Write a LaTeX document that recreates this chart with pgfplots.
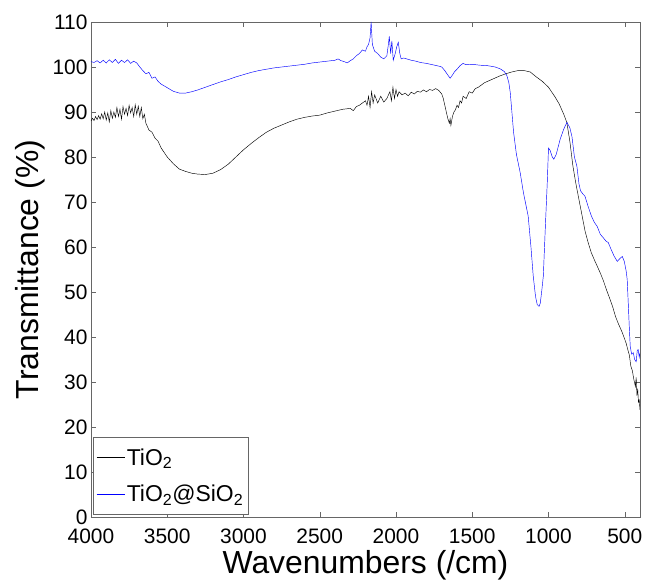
\documentclass[border=0pt]{standalone}
\usepackage{fontspec}
\setmainfont{Liberation Sans}
\usepackage{pgfplots}
\pgfplotsset{compat=1.18}

\begin{document}
\begin{tikzpicture}
  \begin{axis}[
      name=ax,
      scale only axis,
      width=549bp, height=495bp,
      x dir=reverse,
      xmin=400, xmax=4000,
      ymin=0, ymax=110,
      xtick={500,1000,...,4000},
      ytick={0,10,...,110},
      tick pos=both,
      tick align=inside,
      major tick length=5bp,
      every tick/.style={gray!80!black},
      axis line style={gray!80!black, line width=0.8pt},
      /pgf/number format/assume math mode=true,
      /pgf/number format/set thousands separator={},
      tick label style={font=\fontsize{21}{24}\selectfont},
      xticklabel style={yshift=-8bp},
      xlabel={Wavenumbers (/cm)},
      ylabel={Transmittance (\%)},
      label style={font=\fontsize{32}{36}\selectfont},
      xlabel style={at={([yshift=-56bp]axis description cs:0.5,0)}, anchor=base},
      ylabel style={at={([xshift=-52bp]axis description cs:0,0.5)}, anchor=base},
      legend cell align=left,
      legend style={
          at={(axis description cs:0.004,0.006)}, anchor=south west,
          draw=gray!80!black, font=\fontsize{23}{26}\selectfont,
          inner xsep=3bp, inner ysep=9bp, row sep=14bp,
      },
      legend image code/.code={\draw[#1] (0bp,0bp) -- (28bp,0bp);},
  ]
  \addplot[black, line width=0.45pt] coordinates {
      (4000,88.0) (3990,88.6) (3980,88.1) (3970,89.0) (3960,88.3) (3950,89.2)
      (3940,88.4) (3930,89.6) (3920,88.5) (3910,90.0) (3900,88.2) (3890,89.8)
      (3880,87.8) (3870,90.3) (3860,88.6) (3850,90.0) (3840,88.8) (3830,91.0)
      (3820,89.0) (3810,90.6) (3800,88.4) (3790,91.2) (3780,89.5) (3770,90.8)
      (3760,89.2) (3750,91.5) (3740,89.8) (3730,91.0) (3720,89.0) (3710,91.6)
      (3700,89.5) (3690,91.3) (3680,89.0) (3670,91.0) (3660,88.5) (3650,89.5)
      (3640,87.5) (3620,86.0) (3600,85.5) (3580,84.2) (3560,83.5) (3540,82.0)
      (3520,81.0) (3500,80.0) (3460,78.5) (3420,77.3) (3380,76.8) (3340,76.4)
      (3300,76.2) (3250,76.1) (3200,76.4) (3150,77.2) (3100,78.4) (3050,80.0)
      (3000,81.6) (2950,83.0) (2900,84.3) (2850,85.5) (2800,86.4) (2750,87.1)
      (2700,87.8) (2650,88.4) (2600,88.8) (2550,89.1) (2500,89.3) (2450,89.8)
      (2400,90.2) (2350,90.6) (2300,90.8) (2280,90.3) (2260,91.2) (2240,91.5)
      (2220,92.0) (2200,92.5) (2190,91.5) (2180,93.5) (2170,91.0) (2160,94.5)
      (2150,92.0) (2140,93.8) (2120,92.0) (2100,93.5) (2080,92.2) (2060,93.0)
      (2040,94.5) (2030,92.5) (2020,95.5) (2010,93.0) (2000,95.0) (1990,93.5)
      (1980,94.5) (1960,93.8) (1940,94.2) (1920,93.6) (1900,94.4) (1880,94.0)
      (1860,94.6) (1840,94.4) (1820,94.9) (1800,94.5) (1780,95.0) (1760,94.8)
      (1740,95.2) (1720,94.8) (1700,94.0) (1690,93.0) (1680,91.5) (1670,90.0)
      (1660,88.5) (1650,87.5) (1645,88.5) (1640,87.0) (1630,89.0) (1620,90.0)
      (1610,90.5) (1600,91.5) (1590,91.0) (1580,92.5) (1570,92.0) (1560,93.5)
      (1540,93.0) (1520,94.5) (1500,94.2) (1480,95.2) (1460,95.5) (1440,96.0)
      (1420,96.5) (1400,96.8) (1360,97.4) (1320,98.0) (1280,98.5) (1240,98.9)
      (1200,99.2) (1160,99.2) (1120,98.9) (1080,97.8) (1040,96.8) (1000,95.5)
      (960,93.5) (930,91.8) (900,89.5) (880,87.7) (860,83.5) (840,78.0)
      (820,74.0) (800,70.5) (780,67.0) (760,63.5) (740,61.0) (720,58.8)
      (700,57.2) (680,55.7) (660,54.2) (640,52.5) (620,50.5) (600,48.7)
      (580,46.8) (560,44.5) (540,42.8) (520,41.3) (500,39.5) (490,38.5)
      (480,37.2) (470,36.0) (460,33.5) (450,32.5) (440,30.5) (430,29.0)
      (425,31.0) (420,27.0) (415,28.5) (410,25.5) (405,26.0) (400,23.8)
  };
  \addlegendentry{TiO\textsubscript{2}}

  \addplot[blue, line width=0.45pt] coordinates {
      (4000,101.2) (3980,101.0) (3960,101.4) (3940,100.9) (3920,101.5)
      (3900,100.9) (3880,101.6) (3860,101.0) (3840,101.7) (3820,100.8)
      (3800,101.5) (3780,101.0) (3760,101.6) (3740,100.8) (3720,101.3)
      (3700,100.9) (3680,100.0) (3660,99.2) (3640,98.5) (3620,98.8)
      (3600,97.5) (3580,97.8) (3560,96.8) (3540,96.2) (3500,95.4)
      (3460,94.6) (3420,94.2) (3380,94.2) (3340,94.5) (3300,94.9)
      (3250,95.5) (3200,96.1) (3150,96.7) (3100,97.2) (3050,97.8)
      (3000,98.3) (2950,98.8) (2900,99.2) (2850,99.5) (2800,99.8)
      (2750,100.0) (2700,100.2) (2650,100.4) (2600,100.6) (2550,100.9)
      (2500,101.1) (2450,101.3) (2400,101.5) (2380,101.8) (2360,101.4)
      (2340,101.2) (2320,100.9) (2300,101.4) (2280,101.8) (2260,102.5)
      (2240,103.0) (2220,103.8) (2200,103.5) (2190,104.5) (2180,105.0)
      (2170,106.5) (2163,110.0) (2155,105.0) (2140,103.5) (2120,103.0)
      (2100,102.2) (2080,101.8) (2060,102.5) (2050,105.0) (2044,106.8)
      (2035,103.0) (2027,105.8) (2018,101.5) (2005,103.0) (1995,104.5)
      (1985,105.5) (1975,103.0) (1966,101.8) (1950,102.0) (1930,101.8)
      (1900,101.5) (1870,101.3) (1840,101.0) (1800,100.8) (1760,100.5)
      (1720,100.2) (1700,100.0) (1680,99.2) (1660,98.2) (1645,97.5)
      (1630,98.2) (1615,99.0) (1600,99.5) (1580,100.3) (1560,100.8)
      (1540,100.5) (1500,100.6) (1450,100.4) (1400,100.3) (1350,100.0)
      (1317,99.6) (1290,99.0) (1273,98.1) (1260,96.5) (1251,94.4)
      (1240,90.0) (1229,85.5) (1210,80.5) (1186,76.6) (1165,72.2)
      (1133,66.8) (1115,60.0) (1100,53.5) (1085,49.0) (1074,47.2)
      (1062,46.8) (1054,47.5) (1045,50.0) (1034,53.5) (1020,65.0)
      (1008,74.4) (1000,82.0) (990,81.5) (975,80.0) (965,79.5)
      (950,80.5) (923,84.0) (900,86.2) (879,87.7) (860,86.5)
      (846,84.5) (830,80.0) (814,78.0) (800,74.0) (790,72.5)
      (775,71.8) (761,71.3) (740,69.0) (720,67.0) (700,65.5)
      (681,64.6) (660,62.8) (642,62.1) (620,61.2) (608,61.0)
      (590,59.5) (570,58.0) (549,56.8) (530,57.5) (516,57.9)
      (503,56.8) (490,54.5) (484,52.8) (475,46.0) (470,42.0)
      (464,37.9) (455,36.2) (444,36.5) (435,35.0) (425,34.5)
      (418,37.0) (412,37.2) (405,35.5) (400,36.5)
  };
  \addlegendentry{TiO\textsubscript{2}@SiO\textsubscript{2}}
  \end{axis}
  \path (ax.south west) ++(-91bp,-63bp);
  \path (ax.north east) ++(7bp,22bp);
\end{tikzpicture}
\end{document}
